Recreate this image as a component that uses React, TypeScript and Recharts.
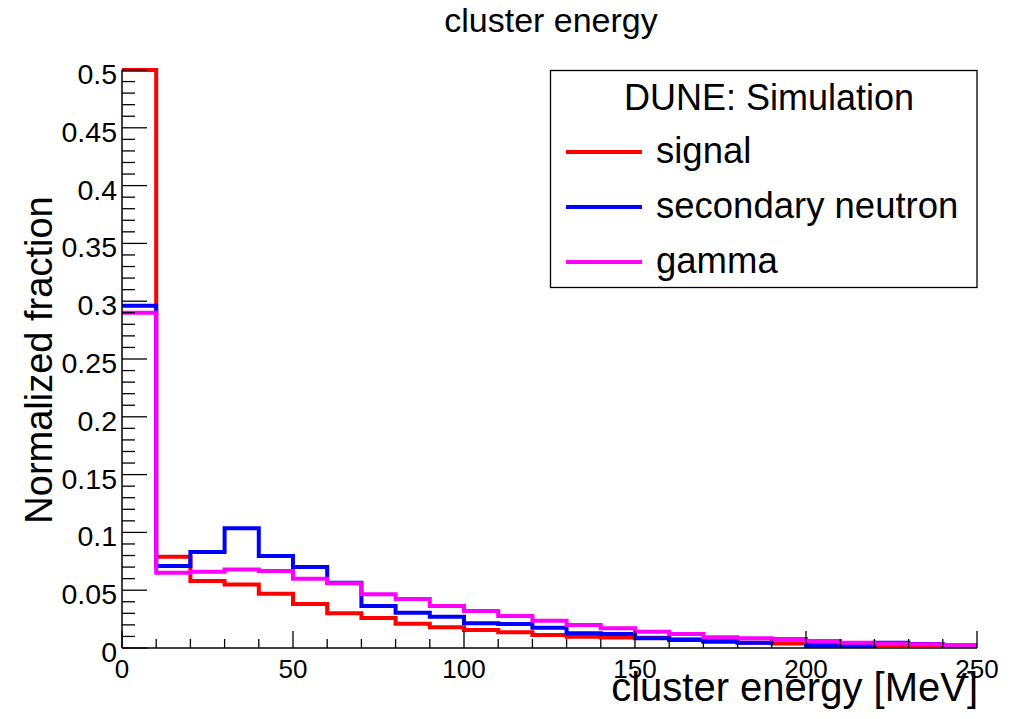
import { LineChart, Line, XAxis, YAxis } from "recharts";

// 10 MeV bins, lower edges plus the final upper edge
const energyEdges = [
    0, 10, 20, 30, 40, 50, 60, 70, 80, 90, 100, 110, 120, 130, 140, 150, 160, 170, 180, 190, 200, 210, 220, 230,
    240, 250,
];

const signal = [
    0.5, 0.079, 0.058, 0.055, 0.047, 0.038, 0.03, 0.026, 0.021, 0.018, 0.0156, 0.0136, 0.0112, 0.0098, 0.009,
    0.0088, 0.0075, 0.006, 0.0046, 0.004, 0.004, 0.0035, 0.0026, 0.0026, 0.0023,
];

const secondaryNeutron = [
    0.296, 0.071, 0.083, 0.1035, 0.0796, 0.07, 0.0565, 0.0363, 0.0305, 0.027, 0.0214, 0.0208, 0.0176, 0.0127,
    0.0121, 0.0084, 0.0069, 0.0055, 0.0046, 0.0075, 0.0017, 0.0017, 0.0046, 0.0035, 0.0017,
];

const gamma = [
    0.29, 0.065, 0.066, 0.068, 0.0666, 0.06, 0.056, 0.0464, 0.0424, 0.0363, 0.032, 0.0277, 0.0236, 0.0199, 0.017,
    0.0141, 0.0121, 0.0092, 0.0084, 0.0075, 0.006, 0.0046, 0.004, 0.0032, 0.0023,
];

const xMajorTicks = [0, 50, 100, 150, 200, 250];
const yMajorTicks = [0, 0.05, 0.1, 0.15, 0.2, 0.25, 0.3, 0.35, 0.4, 0.45, 0.5];

const xTicks = energyEdges;
const yTicks = Array.from({ length: 51 }, (_, i) => i / 100);

const series = [
    { key: "signal", name: "signal", color: "#ff0000" },
    { key: "neutron", name: "secondary neutron", color: "#0000ff" },
    { key: "gamma", name: "gamma", color: "#ff00ff" },
];

const data = energyEdges.map((energy, i) => {
    const bin = Math.min(i, signal.length - 1);
    return { energy, signal: signal[bin], neutron: secondaryNeutron[bin], gamma: gamma[bin] };
});

const FONT = "'Liberation Sans', Arial, Helvetica, sans-serif";

function XTick({ x, y, payload }: any) {
    const v = payload.value;
    const major = xMajorTicks.includes(v);
    return (
        <g>
            <line x1={x} x2={x} y1={y} y2={y - (major ? 17 : 9)} stroke="#000" strokeWidth={1.3} />
            {major && (
                <text x={x} y={y + 30} textAnchor="middle" fontFamily={FONT} fontSize={26} fill="#000">
                    {v}
                </text>
            )}
        </g>
    );
}

function YTick({ x, y, payload }: any) {
    const v = payload.value;
    const major = yMajorTicks.some((m) => Math.abs(m - v) < 1e-6);
    return (
        <g>
            <line x1={x} x2={x + (major ? 25 : 13)} y1={y} y2={y} stroke="#000" strokeWidth={1.3} />
            {major && (
                <text x={x - 5} y={y + 14} textAnchor="end" fontFamily={FONT} fontSize={28.5} fill="#000">
                    {String(Math.round(v * 100) / 100)}
                </text>
            )}
        </g>
    );
}

export default function App() {
    return (
        <div style={{ position: "absolute", left: 0, top: 0, width: 1015, height: 719, background: "#fff" }}>
            <LineChart width={1015} height={719} data={data} margin={{ top: 70, right: 38, bottom: 11, left: 22 }}>
                <XAxis
                    dataKey="energy"
                    type="number"
                    domain={[0, 250]}
                    ticks={xTicks}
                    interval={0}
                    tick={<XTick />}
                    tickLine={false}
                    tickSize={0}
                    tickMargin={0}
                    height={60}
                    axisLine={{ stroke: "#000", strokeWidth: 1.5 }}
                />
                <XAxis
                    xAxisId="top"
                    orientation="top"
                    type="number"
                    domain={[0, 250]}
                    tick={false}
                    tickLine={false}
                    height={0}
                    axisLine={{ stroke: "#000", strokeWidth: 1.5 }}
                />
                <YAxis
                    type="number"
                    domain={[0, 0.5]}
                    ticks={yTicks}
                    interval={0}
                    tick={<YTick />}
                    tickLine={false}
                    tickSize={0}
                    tickMargin={0}
                    width={100}
                    axisLine={{ stroke: "#000", strokeWidth: 1.5 }}
                />
                <YAxis
                    yAxisId="right"
                    orientation="right"
                    type="number"
                    domain={[0, 0.5]}
                    tick={false}
                    tickLine={false}
                    width={0}
                    axisLine={{ stroke: "#000", strokeWidth: 1.5 }}
                />
                {series.map((s) => (
                    <Line
                        key={s.key}
                        type="stepAfter"
                        dataKey={s.key}
                        name={s.name}
                        stroke={s.color}
                        strokeWidth={4}
                        dot={false}
                        activeDot={false}
                        isAnimationActive={false}
                    />
                ))}
            </LineChart>
            <svg
                width={1015}
                height={719}
                style={{ position: "absolute", left: 0, top: 0, pointerEvents: "none" }}
                fontFamily={FONT}
            >
                <text x={551} y={32} textAnchor="middle" fontSize={34} fill="#000">
                    cluster energy
                </text>
                <text x={978} y={701} textAnchor="end" fontSize={40} fill="#000">
                    cluster energy [MeV]
                </text>
                <text x={52} y={360} textAnchor="middle" fontSize={38} fill="#000" transform="rotate(-90 52 360)">
                    Normalized fraction
                </text>
                <rect x={550.5} y={70.5} width={426.5} height={217} fill="#fff" stroke="#000" strokeWidth={1.3} />
                <text x={769} y={110} textAnchor="middle" fontSize={36} fill="#000">
                    DUNE: Simulation
                </text>
                {series.map((s, i) => (
                    <g key={s.key}>
                        <line x1={566} x2={642} y1={152 + i * 55} y2={152 + i * 55} stroke={s.color} strokeWidth={4} />
                        <text x={656} y={163 + i * 55} fontSize={36.5} fill="#000">
                            {s.name}
                        </text>
                    </g>
                ))}
            </svg>
        </div>
    );
}
